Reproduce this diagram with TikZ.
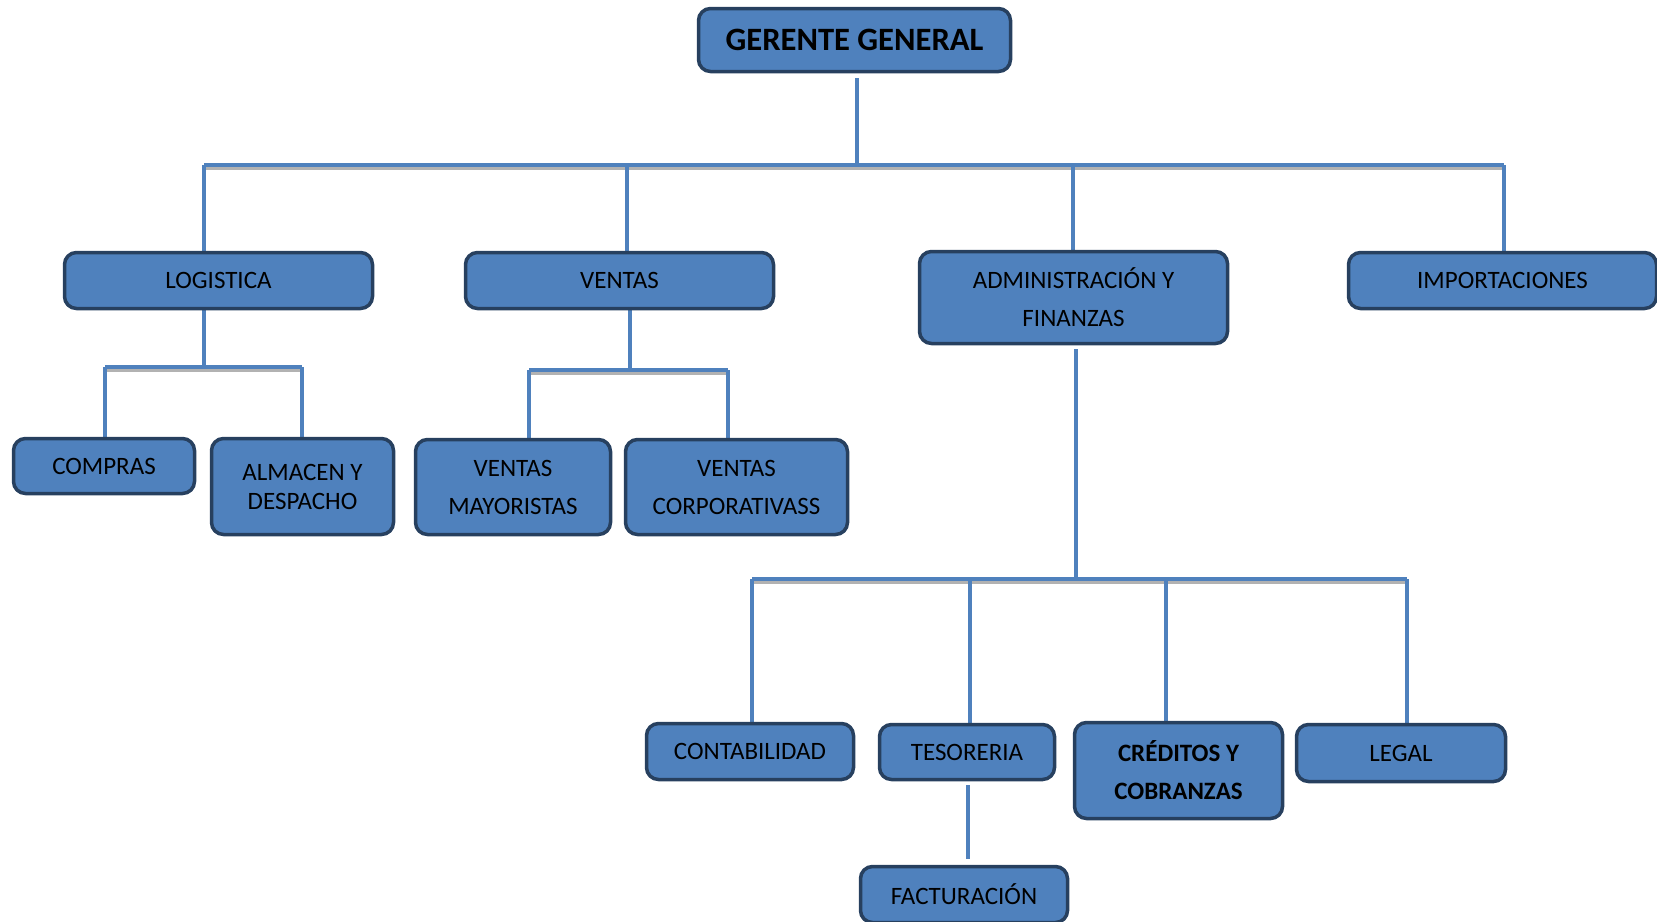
\documentclass[tikz,border=0pt]{standalone}
\usepackage{fontspec}
\setmainfont{Carlito}
\definecolor{boxfill}{HTML}{4F81BD}
\definecolor{boxline}{HTML}{27405F}
\definecolor{linecol}{HTML}{4F81BD}
\pgfdeclarelayer{bg}
\pgfsetlayers{bg,main}
\begin{document}
\begin{tikzpicture}[x=0.5pt,y=-0.5pt,
  box/.style={draw=boxline, fill=boxfill, line width=1.75pt, rounded corners=6pt,
    inner sep=0pt, align=center, text=black, font=\fontsize{12.5}{19}\selectfont},
  conn/.style={draw=linecol, line width=2pt},
  shade/.style={draw=black!30, line width=2pt}]
\useasboundingbox (0,0) rectangle (1657,921);
\clip (0,0) rectangle (1657,921);

% boxes
\node[box, minimum width=156pt, minimum height=31.5pt, font=\fontsize{16.3}{19}\selectfont\bfseries] (GG) at (854.5,40) {GERENTE GENERAL};
\node[box, minimum width=154pt, minimum height=28pt] (LOG) at (218.5,280.5) {LOGISTICA};
\node[box, minimum width=154pt, minimum height=28pt] (VEN) at (619.5,280.5) {VENTAS};
\node[box, minimum width=154pt, minimum height=46pt] (ADM) at (1073.5,297.5) {ADMINISTRACIÓN Y\\FINANZAS};
\node[box, minimum width=154pt, minimum height=28pt] (IMP) at (1502.5,280.5) {IMPORTACIONES};
\node[box, minimum width=90.5pt, minimum height=27.5pt] (COMP) at (104,466) {COMPRAS};
\node[box, minimum width=91pt, minimum height=48pt, font=\fontsize{12.5}{14.5}\selectfont] (ALM) at (302.5,486.5) {ALMACEN Y\\DESPACHO};
\node[box, minimum width=97.5pt, minimum height=47.5pt] (VMAY) at (513,487) {VENTAS\\MAYORISTAS};
\node[box, minimum width=111pt, minimum height=47.5pt] (VCOR) at (736.5,487) {VENTAS\\CORPORATIVASS};
\node[box, minimum width=103.5pt, minimum height=28pt] (CONT) at (750,751.5) {CONTABILIDAD};
\node[box, minimum width=87.5pt, minimum height=27.5pt] (TES) at (967,752) {TESORERIA};
\node[box, minimum width=104pt, minimum height=48pt, font=\fontsize{12.5}{19}\selectfont\bfseries] (CRED) at (1178.5,770.5) {CRÉDITOS Y\\COBRANZAS};
\node[box, minimum width=104.5pt, minimum height=28.5pt] (LEGAL) at (1401,753) {LEGAL};
\node[box, minimum width=103.5pt, minimum height=28pt] (FACT) at (964,894.5) {FACTURACIÓN};

% junction coordinates
\coordinate (b0) at (857,165);
\coordinate (bL) at (204,165);
\coordinate (bV) at (627,165);
\coordinate (bA) at (1073,165);
\coordinate (bR) at (1504,165);
\coordinate (lM) at (204,367);
\coordinate (lL) at (105,367);
\coordinate (lR) at (302,367);
\coordinate (vM) at (630,370);
\coordinate (vL) at (529,370);
\coordinate (vR) at (728,370);
\coordinate (aM) at (1076,579);
\coordinate (aL) at (752,579);
\coordinate (aT) at (970,579);
\coordinate (aC) at (1166,579);
\coordinate (aR) at (1407,579);
\coordinate (tf) at (968,820);

\begin{pgfonlayer}{bg}
  % shadows under horizontal bars
  \draw[shade] ([yshift=-1.5pt]bL) -- ([yshift=-1.5pt]bR);
  \draw[shade] ([yshift=-1.5pt]lL) -- ([yshift=-1.5pt]lR);
  \draw[shade] ([yshift=-1.5pt]vL) -- ([yshift=-1.5pt]vR);
  \draw[shade] ([yshift=-1.5pt]aL) -- ([yshift=-1.5pt]aR);
  % top level
  \draw[conn, shorten <=2.5pt] (GG.south -| b0) -- (b0);
  \draw[conn] (bL) -- (bR);
  \draw[conn] (bL) -- (bL |- LOG.north);
  \draw[conn] (bV) -- (bV |- VEN.north);
  \draw[conn] (bA) -- (bA |- ADM.north);
  \draw[conn] (bR) -- (bR |- IMP.north);
  % logistica
  \draw[conn] (LOG.south -| lM) -- (lM);
  \draw[conn] (lL) -- (lR);
  \draw[conn] (lL) -- (lL |- COMP.north);
  \draw[conn] (lR) -- (lR |- ALM.north);
  % ventas
  \draw[conn] (VEN.south -| vM) -- (vM);
  \draw[conn] (vL) -- (vR);
  \draw[conn] (vL) -- (vL |- VMAY.north);
  \draw[conn] (vR) -- (vR |- VCOR.north);
  % administracion
  \draw[conn, shorten <=2pt] (ADM.south -| aM) -- (aM);
  \draw[conn] (aL) -- (aR);
  \draw[conn] (aL) -- (aL |- CONT.north);
  \draw[conn] (aT) -- (aT |- TES.north);
  \draw[conn] (aC) -- (aC |- CRED.north);
  \draw[conn] (aR) -- (aR |- LEGAL.north);
  % tesoreria - facturacion
  \draw[conn, shorten <=2pt, shorten >=3pt] (TES.south -| tf) -- (tf |- FACT.north);
\end{pgfonlayer}
\end{tikzpicture}
\end{document}
